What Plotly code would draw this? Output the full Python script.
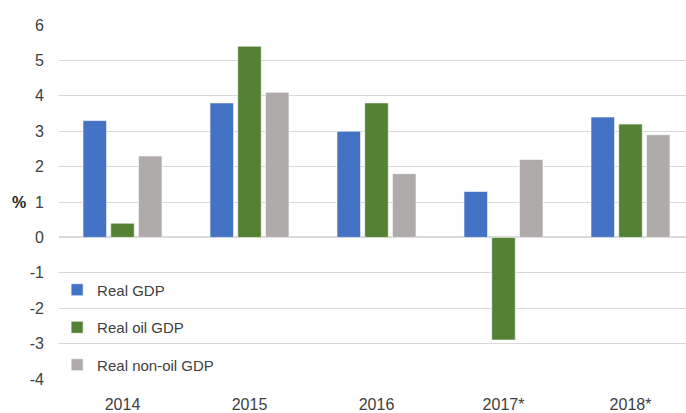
import plotly.graph_objects as go

categories = ["2014", "2015", "2016", "2017*", "2018*"]
real_gdp = [3.3, 3.8, 3.0, 1.3, 3.4]
real_oil_gdp = [0.4, 5.4, 3.8, -2.9, 3.2]
real_non_oil_gdp = [2.3, 4.1, 1.8, 2.2, 2.9]
y_ticks = [-4, -3, -2, -1, 0, 1, 2, 3, 4, 5, 6]
y_tick_labels = ["-4", "-3", "-2", "-1", "0", "1", "2", "3", "4", "5", "6"]

series = [
    ("Real GDP", real_gdp, "#4472C4"),
    ("Real oil GDP", real_oil_gdp, "#548235"),
    ("Real non-oil GDP", real_non_oil_gdp, "#AFABAB"),
]

fig = go.Figure()
for i, (name, vals, color) in enumerate(series):
    fig.add_trace(go.Bar(
        x=categories, y=vals, name=name, legendgroup=f"g{i}",
        marker=dict(color=color, line=dict(color="rgba(255,255,255,0.6)", width=1)),
    ))

font_family = "Liberation Sans, Arial, sans-serif"
fig.update_layout(
    width=686, height=413,
    margin=dict(l=59, r=0, t=25, b=28),
    paper_bgcolor="white", plot_bgcolor="white",
    barmode="group", bargap=0.345, bargroupgap=0.15,
    font=dict(family=font_family, size=16, color="#404040"),
    showlegend=True,
    legend=dict(
        x=-0.003, y=0.298, xanchor="left", yanchor="top",
        bgcolor="rgba(0,0,0,0)", tracegroupgap=15,
        font=dict(size=15, color="#404040"),
        itemwidth=30, traceorder="grouped",
    ),
    xaxis=dict(
        range=[-0.5, 4.437], showgrid=False, zeroline=False, showline=False,
        ticks="", tickfont=dict(size=16, color="#404040"), ticklabelstandoff=14,
    ),
    yaxis=dict(
        range=[-4, 6], tickvals=y_ticks, ticktext=y_tick_labels,
        showgrid=True, gridcolor="#D9D9D9",
        gridwidth=1, zeroline=True, zerolinecolor="#D9D9D9", zerolinewidth=1.5,
        ticks="", tickfont=dict(size=16, color="#404040"), ticklabelstandoff=14,
    ),
    annotations=[dict(
        text="<b>%</b>", xref="paper", yref="y", x=0, y=1, xshift=-49,
        xanchor="left", yanchor="middle", showarrow=False,
        font=dict(size=16, color="#262626"),
    )],
)

fig.write_html("out.html", config={"displayModeBar": False},
               post_script="document.body.style.margin='0';")
